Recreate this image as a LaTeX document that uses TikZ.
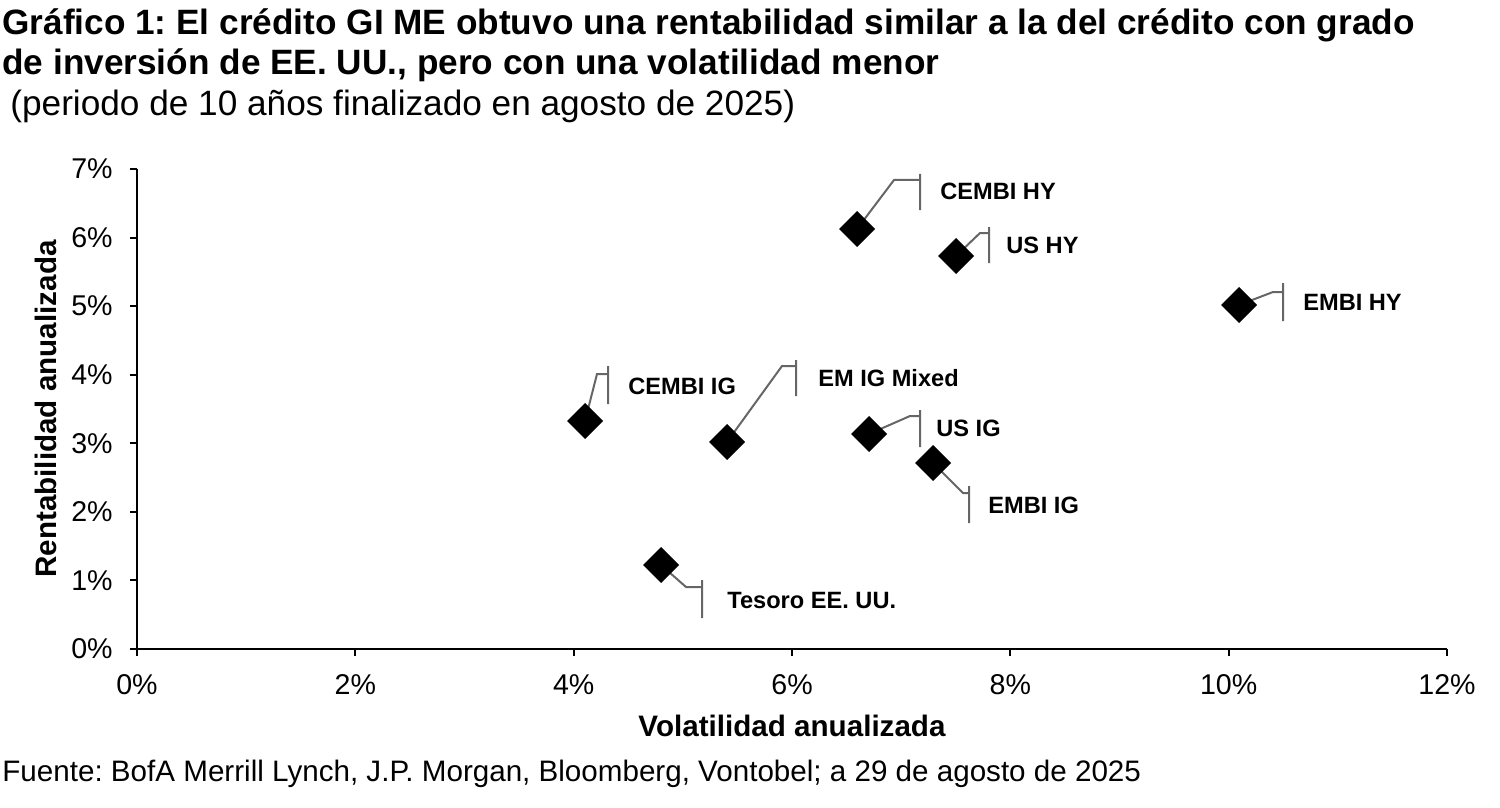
\documentclass[tikz,border=0pt]{standalone}
\usepackage{fontspec}
\setmainfont{Liberation Sans}
\frenchspacing
\begin{document}
\begin{tikzpicture}[x=0.5pt,y=-0.5pt,
  lead/.style={draw=black!60,line width=1pt},
  lab/.style={anchor=west,font=\bfseries\fontsize{11.8}{14}\selectfont,inner sep=0pt},
  tk/.style={font=\fontsize{14.3}{16}\selectfont,inner sep=0pt}]
\useasboundingbox (0,0) rectangle (1500,808);
\node[anchor=west,inner sep=0pt,font=\bfseries\fontsize{17.6}{20}\selectfont] (t1) at (2,25) {Gráfico 1: El crédito GI ME obtuvo una rentabilidad similar a la del crédito con grado};
\node[anchor=west,inner sep=0pt,font=\bfseries\fontsize{17.6}{20}\selectfont] (t2) at (2,65) {de inversión de EE. UU., pero con una volatilidad menor};
\node[anchor=west,inner sep=0pt,font=\fontsize{17.6}{20}\selectfont] (t3) at (10,106) {(periodo de 10 años finalizado en agosto de 2025)};
\node[anchor=west,inner sep=0pt,font=\fontsize{14.8}{17}\selectfont] (src) at (2,774) {Fuente: BofA Merrill Lynch, J.P. Morgan, Bloomberg, Vontobel; a 29 de agosto de 2025};
% axes
\draw[line width=1pt] (137,169) -- (137,649) -- (1447,649);
\foreach \i in {0,...,7}{
  \pgfmathsetmacro\yy{649-68.571*\i}
  \draw[line width=1pt] (130,\yy) -- (137,\yy);
  \node[tk,anchor=east] (yl\i) at (113,\yy) {\i\%};
}
\foreach \i in {0,2,...,12}{
  \pgfmathsetmacro\xx{137+109.17*\i}
  \draw[line width=1pt] (\xx,649) -- (\xx,656);
  \node[tk] (xl\i) at (\xx,685) {\i\%};
}
\node[font=\bfseries\fontsize{14.8}{17}\selectfont] (xt) at (792,726) {Volatilidad anualizada};
\node[font=\bfseries\fontsize{14.8}{17}\selectfont,rotate=90] (yt) at (46,409) {Rentabilidad anualizada};
% leaders
\draw[lead] (857,229) -- (894,180) -- (920,180) (920,174) -- (920,210);
\draw[lead] (956,256) -- (980,233) -- (989,233) (989,227) -- (989,263);
\draw[lead] (1239,305) -- (1273,292) -- (1283,292) (1283,283) -- (1283,321);
\draw[lead] (585,421) -- (597,374) -- (608,374) (608,366) -- (608,404);
\draw[lead] (727,442) -- (782,366) -- (796,366) (796,360) -- (796,396);
\draw[lead] (869,434) -- (910,416) -- (920,416) (920,410) -- (920,447);
\draw[lead] (933,463) -- (963,493) -- (969,493) (969,486) -- (969,523);
\draw[lead] (661,565) -- (686,587) -- (702,587) (702,580) -- (702,618);
% markers
\foreach \n/\x/\y in {m1/857/229,m2/956/256,m3/1239/305,m4/585/421,m5/727/442,m6/869/434,m7/933/463,m8/661/565}{
  \fill (\x-18,\y) -- (\x,\y-18) -- (\x+18,\y) -- (\x,\y+18) -- cycle;
  \node[inner sep=0pt] (\n) at (\x,\y) {};
}
\node[lab] (l1) at (940,191) {CEMBI HY};
\node[lab] (l2) at (1006,245) {US HY};
\node[lab] (l3) at (1303,302) {EMBI HY};
\node[lab] (l4) at (628,386) {CEMBI IG};
\node[lab] (l5) at (818,378) {EM IG Mixed};
\node[lab] (l6) at (936,428) {US IG};
\node[lab] (l7) at (988,505) {EMBI IG};
\node[lab] (l8) at (727,600) {Tesoro EE. UU.};
\end{tikzpicture}
\end{document}
